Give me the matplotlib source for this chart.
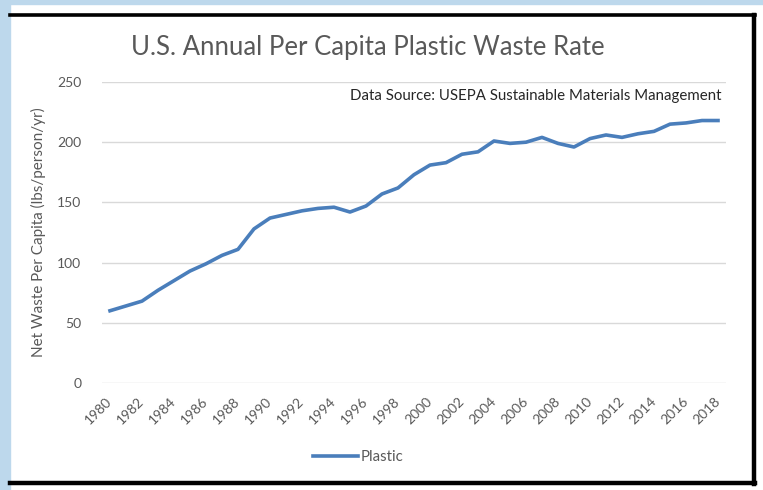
import matplotlib
matplotlib.use("Agg")
import matplotlib.pyplot as plt
from matplotlib.patches import Rectangle
from matplotlib.lines import Line2D

# Data
years = list(range(1980, 2019))
plastic = [60, 64, 68, 77, 85, 93, 99, 106, 111, 128,
           137, 140, 143, 145, 146, 142, 147, 157, 162, 173,
           181, 183, 190, 192, 201, 199, 200, 204, 199, 196,
           203, 206, 204, 207, 209, 215, 216, 218, 218]
y_ticks = [0, 50, 100, 150, 200, 250]
x_labels = [str(y) for y in years[::2]]

plt.rcParams["font.family"] = ["Lato", "DejaVu Sans"]

W, H = 763, 490
fig = plt.figure(figsize=(W / 100, H / 100), dpi=100)
fig.patch.set_facecolor("white")

# light blue border on left and top
blue = "#bdd8ec"
fig.add_artist(Rectangle((0, 0), 10 / W, 1, transform=fig.transFigure, color=blue, zorder=0))
fig.add_artist(Rectangle((0, 1 - 4 / H), 1, 4 / H, transform=fig.transFigure, color=blue, zorder=0))

# black frame lines (top, right, bottom)
def fx(px):
    return px / W

def fy(py):
    return 1 - py / H

fig.add_artist(Line2D([fx(10), fx(755)], [fy(15), fy(15)], transform=fig.transFigure, color="black", lw=2.6))
fig.add_artist(Line2D([fx(754), fx(754)], [fy(15), fy(484)], transform=fig.transFigure, color="black", lw=3.2))
fig.add_artist(Line2D([fx(10), fx(755)], [fy(483), fy(483)], transform=fig.transFigure, color="black", lw=3.2))

ax = fig.add_axes([102 / W, 1 - 383 / H, 624 / W, 301 / H])
line, = ax.plot(years, plastic, color="#4a7ebb", lw=2.6, solid_joinstyle="round", label="Plastic")

ax.set_xlim(1979.5, 2018.5)
ax.set_ylim(0, 250)
ax.set_yticks(y_ticks)
ax.set_xticks(years[::2])
ax.set_xticklabels(x_labels, rotation=45, ha="right", va="center", rotation_mode="anchor")
ax.tick_params(axis="both", length=0, labelsize=10, colors="#595959")
ax.tick_params(axis="y", pad=15)
ax.tick_params(axis="x", pad=12)
ax.grid(axis="y", color="#d9d9d9", lw=1)
ax.set_axisbelow(True)
for s in ax.spines.values():
    s.set_visible(False)

ax.set_ylabel("Net Waste Per Capita (lbs/person/yr)", fontsize=11, color="#595959", labelpad=8)

fig.text(fx(368), fy(47), "U.S. Annual Per Capita Plastic Waste Rate",
         ha="center", va="center", fontsize=18.5, color="#595959")
ax.text(fx(721 - 102) * W / 624, 0.955, "Data Source: USEPA Sustainable Materials Management",
        transform=ax.transAxes, ha="right", va="center", fontsize=10.8, color="#262626")

fig.legend(handles=[line], loc="center", bbox_to_anchor=(fx(358), fy(457)),
           frameon=False, fontsize=10.8, labelcolor="#595959", handlelength=3.0,
           handletextpad=0.15)

fig.savefig("out.png", dpi=100)
